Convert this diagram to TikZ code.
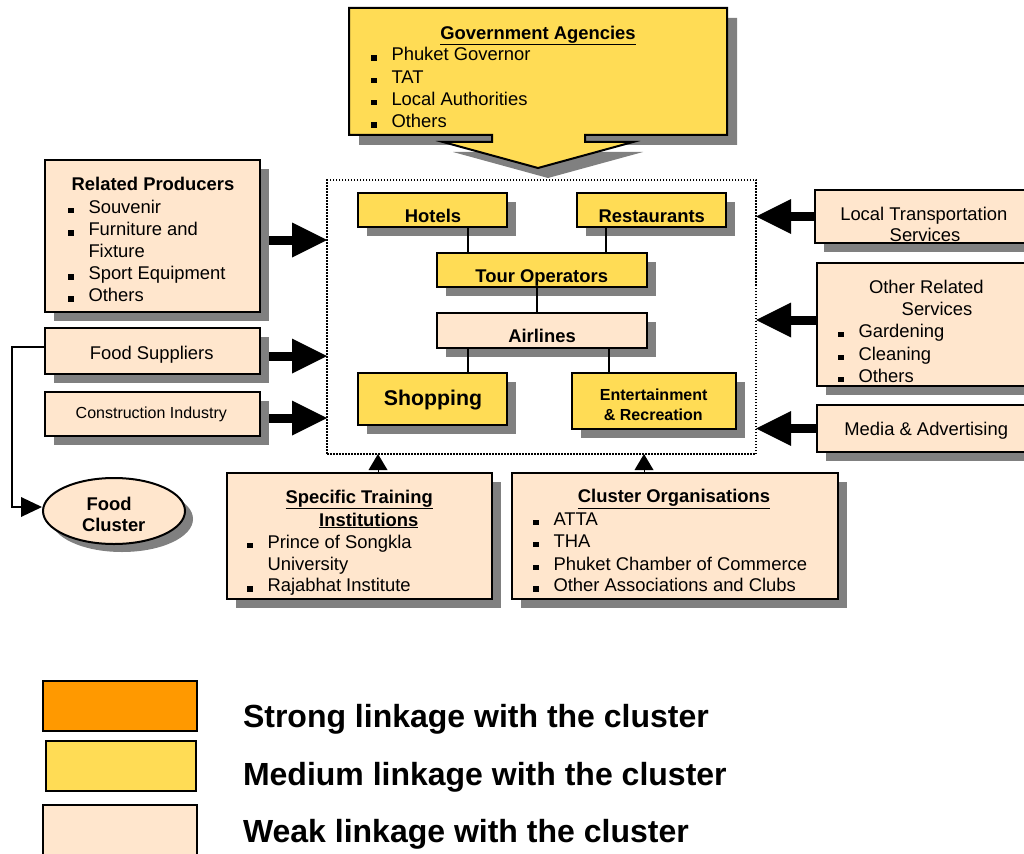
\documentclass[tikz,border=0pt]{standalone}
\usepackage{fontspec}
\setmainfont{Liberation Sans}
\usetikzlibrary{arrows.meta,shadows,shapes.geometric}
\definecolor{medium}{HTML}{FFDC55}
\definecolor{weak}{HTML}{FFE6CD}
\definecolor{strong}{HTML}{FF9900}
\definecolor{shadowgray}{HTML}{808080}
% square bullet followed by the text column
\newcommand\bul{\makebox[20.5pt][l]{\rule{5.5pt}{5.5pt}}}
% \itm{name}{x}{baseline}{text}: one bulleted line
\newcommand\itm[4]{\node[lbl,anchor=base west] (#1) at (#2,#3) {\bul #4};}
% \boxnode{name}{style}{x1}{y1}{x2}{y2}: box given by its corners
\newcommand\boxnode[6]{\node[#2, minimum width={#5-#3}, minimum height={#6-#4}] (#1) at ({(#3+#5)/2},{(#4+#6)/2}) {};}
% outline of the government box with its downward arrow
\newcommand\govoutline{(349,8) -- (727,8) -- (727,135) -- (585,135) -- (585,142)
  -- (633,142) -- (538,168) -- (443,142) -- (492,142) -- (492,135) -- (349,135) -- cycle}

\begin{document}
\begin{tikzpicture}[x=1pt,y=-1pt,
  lbl/.style={inner sep=0pt, outer sep=0pt, font=\fontsize{18.4}{22.2}\selectfont},
  ttl/.style={lbl, anchor=base, font=\fontsize{18.4}{22.2}\selectfont\bfseries},
  box/.style={draw=black, line width=2pt, inner sep=0pt, outer sep=0pt, rectangle,
    general shadow={fill=shadowgray, shadow xshift=9pt, shadow yshift=-9pt}},
  medbox/.style={box, fill=medium},
  weakbox/.style={box, fill=weak},
  legbox/.style={draw=black, line width=1.5pt, inner sep=0pt, outer sep=0pt, rectangle},
  link/.style={draw=black, line width=2pt},
  fat/.style={line width=9pt, -{Triangle[length=35pt, width=35pt, line width=0pt]}},
  uptri/.style={line width=1pt, -{Triangle[length=16pt, width=19pt, line width=0pt]}},
  thin/.style={line width=2pt, -{Triangle[length=21pt, width=20pt, line width=0pt]}},
  cluster/.style={draw=black, line width=1.5pt, dash pattern=on 1.5pt off 1.5pt, inner sep=0pt, outer sep=0pt},
  leg/.style={inner sep=0pt, outer sep=0pt, anchor=base west, font=\fontsize{32}{38}\selectfont\bfseries}
]
\useasboundingbox (0,0) rectangle (1024,853);
\clip (0,0) rectangle (1024,853);

% ---------- core cluster frame ----------
\boxnode{frame}{cluster}{327}{180}{756}{454}

% ---------- government agencies (box with built-in arrow) ----------
\fill[shadowgray, shift={(10,10)}] \govoutline;
\draw[line width=2pt, fill=medium] \govoutline;
\coordinate (gov) at (538,8);
\node[ttl] (govT) at (538,39.3) {\underline{Government Agencies}};
\itm{gov1}{371}{61}{Phuket Governor}
\itm{gov2}{371}{83.3}{TAT}
\itm{gov3}{371}{105.5}{Local Authorities}
\itm{gov4}{371}{127.7}{Others}

% ---------- arrows into the frame (drawn first, shadows cover their roots) ----------
\boxnode{rp}{weakbox}{45}{160}{260}{312}
\boxnode{food}{weakbox}{45}{328}{260}{374}
\boxnode{cons}{weakbox}{45}{392}{260}{436}
\boxnode{lt}{weakbox}{815}{190}{1050}{243}
\boxnode{ors}{weakbox}{817}{263}{1050}{386}
\boxnode{media}{weakbox}{817}{405}{1050}{452}
\boxnode{sti}{weakbox}{227}{473}{492}{599}
\boxnode{co}{weakbox}{512}{473}{838}{599}

\draw[fat] ([yshift=-4pt]rp.east) -- ([yshift=-4pt]rp.east -| frame.west);
\draw[fat] ([yshift=-5pt]food.east) -- ([yshift=-5pt]food.east -| frame.west);
\draw[fat] ([yshift=-4pt]cons.east) -- ([yshift=-4pt]cons.east -| frame.west);
\draw[fat] (lt.west) -- (lt.west -| frame.east);
\draw[fat] ([yshift=4.5pt]ors.west) -- ([yshift=4.5pt]ors.west -| frame.east);
\draw[fat] (media.west) -- (media.west -| frame.east);
\draw[uptri] ([xshift=18.5pt]sti.north) -- ([xshift=18.5pt]sti.north |- frame.south);
\draw[uptri] ([xshift=-31pt]co.north) -- ([xshift=-31pt]co.north |- frame.south);

% redraw the boxes on top of the arrow roots
\boxnode{rp}{weakbox}{45}{160}{260}{312}
\boxnode{food}{weakbox}{45}{328}{260}{374}
\boxnode{cons}{weakbox}{45}{392}{260}{436}
\boxnode{lt}{weakbox}{815}{190}{1050}{243}
\boxnode{ors}{weakbox}{817}{263}{1050}{386}
\boxnode{media}{weakbox}{817}{405}{1050}{452}
\boxnode{sti}{weakbox}{227}{473}{492}{599}
\boxnode{co}{weakbox}{512}{473}{838}{599}

% ---------- food cluster ----------
\node[ellipse, draw=black, line width=2pt, fill=weak, minimum width=142, minimum height=66,
  inner sep=0pt, general shadow={fill=shadowgray, shadow xshift=8pt, shadow yshift=-8pt}] (fc) at (114,511) {};
\draw[thin] ([yshift=4pt]food.west) -- ++(-33,0) |- ([yshift=4pt]fc.west);
\node[ttl] (fcT1) at (109.2,510) {Food};
\node[ttl] (fcT2) at (113.7,531.7) {Cluster};

% ---------- left box texts ----------
\node[ttl] (rpT) at (153,190) {Related Producers};
\itm{rp1}{68}{213.3}{Souvenir}
\itm{rp2}{68}{235.5}{Furniture and}
\node[lbl, anchor=base west] (rp2b) at (88.5,257.6) {Fixture};
\itm{rp3}{68}{279.7}{Sport Equipment}
\itm{rp4}{68}{301.8}{Others}
\node[lbl, anchor=base] (foodT) at (151.7,359) {Food Suppliers};
\node[lbl, anchor=base, font=\fontsize{16}{19}\selectfont] (consT) at (151.3,418.3) {Construction Industry};

% ---------- right box texts ----------
\node[lbl, anchor=base] (ltT1) at (923.8,220.7) {Local Transportation};
\node[lbl, anchor=base] (ltT2) at (925,241.7) {Services};
\node[lbl, anchor=base] (orsT1) at (926.3,293.3) {Other Related};
\node[lbl, anchor=base] (orsT2) at (937,315) {Services};
\itm{ors1}{838}{337.3}{Gardening}
\itm{ors2}{838}{360}{Cleaning}
\itm{ors3}{838}{382.3}{Others}
\node[lbl, anchor=base] (mediaT) at (926.2,435) {Media \& Advertising};

% ---------- bottom box texts ----------
\node[ttl] (stiT1) at (359.2,503.3) {\underline{Specific Training}};
\node[ttl] (stiT2) at (368.8,526) {\underline{Institutions}};
\itm{sti1}{247}{548.3}{Prince of Songkla}
\node[lbl, anchor=base west] (sti1b) at (267.5,570) {University};
\itm{sti2}{247}{591.7}{Rajabhat Institute}
\node[ttl] (coT) at (674,502.7) {\underline{Cluster Organisations}};
\itm{co1}{533}{525}{ATTA}
\itm{co2}{533}{547.3}{THA}
\itm{co3}{533}{570}{Phuket Chamber of Commerce}
\itm{co4}{533}{591.7}{Other Associations and Clubs}

% ---------- core cluster members ----------
\boxnode{hotels}{medbox}{358}{193}{507}{227}
\boxnode{rest}{medbox}{577}{193}{726}{227}
\boxnode{tour}{medbox}{437}{253}{647}{287}
\boxnode{air}{weakbox}{437}{313}{647}{348}
\boxnode{shop}{medbox}{358}{373}{507}{425}
\boxnode{ent}{medbox}{572}{373}{736}{429}

\draw[link] ([xshift=35.5pt]hotels.south) -- ([xshift=35.5pt]hotels.south |- tour.north);
\draw[link] ([xshift=-45.5pt]rest.south) -- ([xshift=-45.5pt]rest.south |- tour.north);
\draw[link] ([xshift=-5pt]tour.south) -- ([xshift=-5pt]tour.south |- air.north);
\draw[link] ([xshift=-74pt]air.south) -- ([xshift=-74pt]air.south |- shop.north);
\draw[link] ([xshift=67pt]air.south) -- ([xshift=67pt]air.south |- ent.north);

\node[ttl] (hotelsT) at (433,222.7) {Hotels};
\node[ttl] (restT) at (651.7,222.7) {Restaurants};
\node[ttl] (tourT) at (541.7,282.7) {Tour Operators};
\node[ttl] (airT) at (542,342.3) {Airlines};
\node[ttl, font=\fontsize{21.3}{25}\selectfont\bfseries] (shopT) at (433,405.7) {Shopping};
\node[ttl, font=\fontsize{16}{19}\selectfont\bfseries] (entT1) at (653.7,400.7) {Entertainment};
\node[ttl, font=\fontsize{16}{19}\selectfont\bfseries] (entT2) at (653.3,420) {\& Recreation};

% ---------- legend ----------
\boxnode{lstrong}{legbox, fill=strong}{43}{681}{197}{731}
\boxnode{lmedium}{legbox, fill=medium}{46}{741}{196}{791}
\boxnode{lweak}{legbox, fill=weak}{43}{805}{197}{862}
\node[leg] (lstrongT) at (243,727) {Strong linkage with the cluster};
\node[leg] (lmediumT) at (243,785) {Medium linkage with the cluster};
\node[leg] (lweakT) at (243,842) {Weak linkage with the cluster};
\end{tikzpicture}
\end{document}
